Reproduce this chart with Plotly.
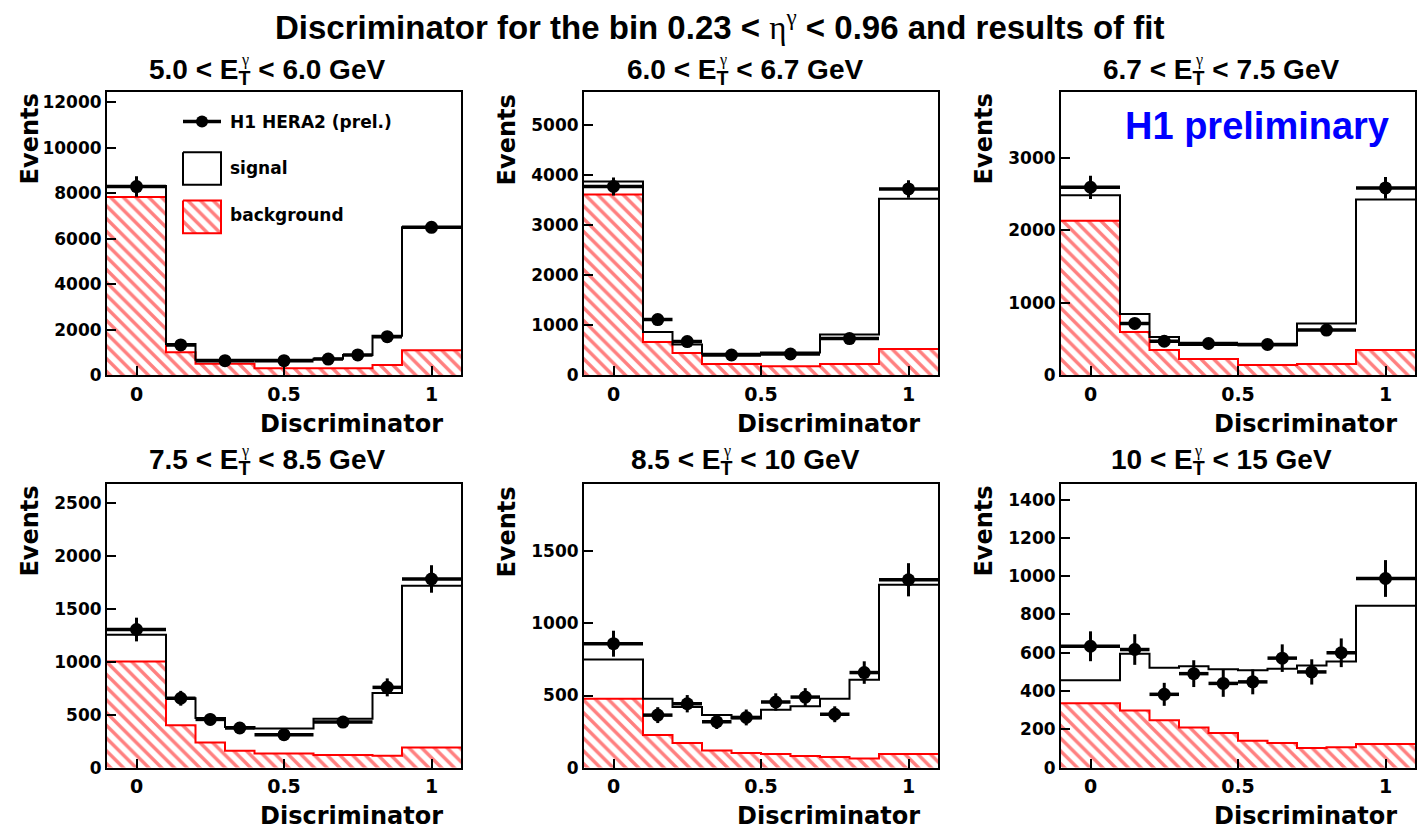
import plotly.graph_objects as go

W, H = 1422, 831

# ---------------- data ----------------
edges_1 = [-0.1, 0.1, 0.2, 0.4, 0.6, 0.7, 0.8, 0.9, 1.1]
data_1 = [8300, 1340, 650, 650, 720, 900, 1705, 6510]
err_1 = [450, 120, 80, 80, 90, 100, 150, 250]
total_1 = [8320, 1380, 690, 690, 730, 900, 1740, 6510]
bkg_1 = [7840, 1020, 515, 320, 320, 315, 460, 1110]

edges_2 = [-0.1, 0.1, 0.2, 0.3, 0.5, 0.7, 0.9, 1.1]
data_2 = [3770, 1115, 676, 407, 427, 735, 3720]
err_2 = [180, 60, 45, 35, 35, 55, 175]
total_2 = [3870, 866, 615, 430, 455, 814, 3524]
bkg_2 = [3609, 669, 446, 230, 184, 230, 525]

edges_3 = [-0.1, 0.1, 0.2, 0.3, 0.5, 0.7, 0.9, 1.1]
data_3 = [2592, 716, 471, 440, 426, 625, 2583]
err_3 = [160, 60, 40, 40, 40, 50, 150]
total_3 = [2483, 847, 530, 420, 415, 716, 2424]
bkg_3 = [2130, 598, 349, 227, 145, 159, 349]

edges_4 = [-0.1, 0.1, 0.2, 0.3, 0.4, 0.6, 0.8, 0.9, 1.1]
data_4 = [1306, 656, 456, 375, 312, 431, 759, 1784]
err_4 = [112, 70, 55, 45, 40, 45, 85, 130]
total_4 = [1256, 656, 469, 384, 369, 462, 706, 1719]
bkg_4 = [1003, 400, 237, 159, 134, 119, 112, 190]

edges_5 = [-0.1, 0.1, 0.2, 0.3, 0.4, 0.5, 0.6, 0.7, 0.8, 0.9, 1.1]
data_5 = [859, 364, 443, 318, 348, 455, 489, 370, 659, 1302]
err_5 = [90, 55, 60, 50, 55, 60, 62, 55, 78, 115]
total_5 = [750, 477, 420, 364, 341, 402, 425, 477, 609, 1268]
bkg_5 = [477, 227, 170, 118, 102, 95, 80, 73, 64, 95]

edges_6 = [-0.1, 0.1, 0.2, 0.3, 0.4, 0.5, 0.6, 0.7, 0.8, 0.9, 1.1]
data_6 = [634, 617, 383, 491, 440, 448, 572, 500, 600, 988]
err_6 = [78, 80, 60, 70, 70, 65, 72, 66, 75, 96]
total_6 = [457, 595, 522, 529, 514, 509, 517, 534, 555, 845]
bkg_6 = [336, 298, 248, 210, 181, 141, 129, 103, 107, 124]

panel_titles = [
    "5.0 &lt; E<sub>T</sub> &lt; 6.0 GeV",
    "6.0 &lt; E<sub>T</sub> &lt; 6.7 GeV",
    "6.7 &lt; E<sub>T</sub> &lt; 7.5 GeV",
    "7.5 &lt; E<sub>T</sub> &lt; 8.5 GeV",
    "8.5 &lt; E<sub>T</sub> &lt; 10 GeV",
    "10 &lt; E<sub>T</sub> &lt; 15 GeV",
]
title_sup = "γ"
y_max = [12460, 5656, 3906, 2681, 1965, 1481]
y_dtick = [2000, 1000, 1000, 500, 500, 200]
x_tickvals = [0, 0.5, 1]
x_ticktext = ["0", "0.5", "1"]
SERIF = "<span style='font-family:Liberation Serif;font-weight:normal'>{}</span>"
main_title = ("Discriminator for the bin 0.23 &lt; " + SERIF.format("η")
              + "<sup>" + SERIF.format("γ") + "</sup> &lt; 0.96 and results of fit")
legend_labels = ["H1 HERA2 (prel.)", "signal", "background"]

# ---------------- layout helpers ----------------
def px(x):
    return x / W


def py(y):
    return 1 - y / H


col_px = [(107, 461), (584, 938), (1061, 1415)]
row_px = [(93, 380), (490, 777)]
title_cx = [267, 745, 1221]
title_cy = [72, 467]
gamma_dx = [-22.5, -22.5, -22.5, -22.5, -18.5, -22.6]
gamma_cy = [61, 456]

XTICK_FONT = dict(family="DejaVu Sans", size=19, color="black", weight="bold")
YTICK_FONT = dict(family="DejaVu Sans", size=17, color="black", weight="bold")
TITLE_FONT = dict(family="Liberation Sans", size=28, color="black", weight="bold")
LABEL_FONT = dict(family="DejaVu Sans", size=24, color="black", weight="bold")

panels = [
    (edges_1, data_1, err_1, total_1, bkg_1),
    (edges_2, data_2, err_2, total_2, bkg_2),
    (edges_3, data_3, err_3, total_3, bkg_3),
    (edges_4, data_4, err_4, total_4, bkg_4),
    (edges_5, data_5, err_5, total_5, bkg_5),
    (edges_6, data_6, err_6, total_6, bkg_6),
]

HATCH = dict(shape="\\", fgcolor="#ff0000", bgcolor="white", size=9, solidity=0.38)

fig = go.Figure()
layout = dict(
    width=W, height=H, margin=dict(l=0, r=0, t=0, b=0),
    paper_bgcolor="#ffffff", plot_bgcolor="rgba(0,0,0,0)", showlegend=False,
)
annotations = []

for i, (edges, dat, err, tot, bkg) in enumerate(panels):
    r, c = divmod(i, 3)
    k = "" if i == 0 else str(i + 1)
    xa, ya = "x" + k, "y" + k
    xl, xr = col_px[c]
    yt, yb = row_px[r]

    step_x = list(edges)
    bkg_y = list(bkg) + [bkg[-1]]
    tot_y = list(tot) + [tot[-1]]
    centers = [(edges[j] + edges[j + 1]) / 2 for j in range(len(dat))]
    halfw = [(edges[j + 1] - edges[j]) / 2 for j in range(len(dat))]

    fig.add_trace(go.Scatter(
        x=step_x, y=bkg_y, mode="lines", xaxis=xa, yaxis=ya,
        line=dict(shape="hv", color="#ff0000", width=2),
        fill="tozeroy", fillpattern=HATCH, hoverinfo="skip"))
    fig.add_trace(go.Scatter(
        x=step_x, y=tot_y, mode="lines", xaxis=xa, yaxis=ya,
        line=dict(shape="hv", color="black", width=2), hoverinfo="skip"))
    fig.add_trace(go.Scatter(
        x=centers, y=dat, mode="markers", xaxis=xa, yaxis=ya,
        marker=dict(color="black", size=13),
        error_y=dict(type="data", array=err, thickness=3, width=0, color="black"),
        error_x=dict(type="data", array=halfw, thickness=3.5, width=0, color="black")))

    layout["xaxis" + k] = dict(
        domain=[px(xl), px(xr)], anchor=ya, range=[-0.1, 1.1],
        tickvals=x_tickvals, ticktext=x_ticktext, ticks="inside", ticklen=9,
        tickwidth=2, tickcolor="black", showline=True, linewidth=2, linecolor="black",
        mirror=True, showgrid=False, zeroline=False, tickfont=XTICK_FONT,
        ticklabelstandoff=1)
    layout["yaxis" + k] = dict(
        domain=[py(yb), py(yt)], anchor=xa, range=[0, y_max[i]], dtick=y_dtick[i],
        tick0=0, tickformat="d", ticks="inside", ticklen=9, tickwidth=2,
        tickcolor="black", showline=True, linewidth=2, linecolor="black",
        mirror=True, showgrid=False, zeroline=False, tickfont=YTICK_FONT,
        ticklabelstandoff=0)

    # panel title (E_T with gamma stacked above the T)
    annotations.append(dict(text=panel_titles[i], x=px(title_cx[c]), y=py(title_cy[r]),
                            xref="paper", yref="paper", xanchor="center",
                            yanchor="middle", showarrow=False, font=TITLE_FONT))
    annotations.append(dict(text=title_sup, x=px(title_cx[c] + gamma_dx[i]),
                            y=py(gamma_cy[r]), xref="paper", yref="paper",
                            xanchor="center", yanchor="middle", showarrow=False,
                            font=dict(family="Liberation Serif", size=16,
                                      color="black")))
    # x-axis title
    annotations.append(dict(text="Discriminator", x=px(xr - 16), y=py(yb + 49),
                            xref="paper", yref="paper", xanchor="right",
                            yanchor="middle", showarrow=False, font=LABEL_FONT))
    # y-axis title
    annotations.append(dict(text="Events", x=px(xl - 77), y=py(yt), xref="paper",
                            yref="paper", xanchor="center", yanchor="top",
                            textangle=-90, showarrow=False, font=LABEL_FONT))

# main title
annotations.append(dict(text=main_title, x=px(719), y=py(25), xref="paper", yref="paper",
                        xanchor="center", yanchor="middle", showarrow=False,
                        font=dict(family="Liberation Sans", size=33, color="black",
                                  weight="bold")))
# H1 preliminary
annotations.append(dict(text="H1 preliminary", x=px(1123), y=py(128), xref="paper",
                        yref="paper", xanchor="left", yanchor="middle", showarrow=False,
                        font=dict(family="Liberation Sans", size=38, color="#0000ff",
                                  weight="bold")))

# ---------------- hand-drawn legend (overlay axes in pixel units) ----------------
layout["xaxis7"] = dict(domain=[0, 1], range=[0, W], visible=False, fixedrange=True,
                        anchor="y7")
layout["yaxis7"] = dict(domain=[0, 1], range=[H, 0], visible=False, fixedrange=True,
                        anchor="x7")
fig.add_trace(go.Scatter(x=[183, 221], y=[123, 123], mode="lines", xaxis="x7",
                         yaxis="y7", line=dict(color="black", width=3.5),
                         hoverinfo="skip"))
fig.add_trace(go.Scatter(x=[202], y=[123], mode="markers", xaxis="x7", yaxis="y7",
                         marker=dict(color="black", size=12), hoverinfo="skip"))
fig.add_trace(go.Scatter(x=[183, 221, 221, 183, 183], y=[154, 154, 187, 187, 154],
                         mode="lines", xaxis="x7", yaxis="y7",
                         line=dict(color="black", width=2), hoverinfo="skip"))
fig.add_trace(go.Scatter(x=[183, 221, 221, 183, 183], y=[203, 203, 236, 236, 203],
                         mode="lines", xaxis="x7", yaxis="y7", fill="toself",
                         fillpattern=HATCH, line=dict(color="#ff0000", width=2),
                         hoverinfo="skip"))
for lab, ly in zip(legend_labels, [123, 170, 218]):
    annotations.append(dict(text=lab, x=px(228), y=py(ly), xref="paper", yref="paper",
                            xanchor="left", yanchor="middle", showarrow=False,
                            font=dict(family="DejaVu Sans", size=17, color="black",
                                      weight="bold")))

layout["annotations"] = annotations
fig.update_layout(**layout)
fig.write_html("out.html")
